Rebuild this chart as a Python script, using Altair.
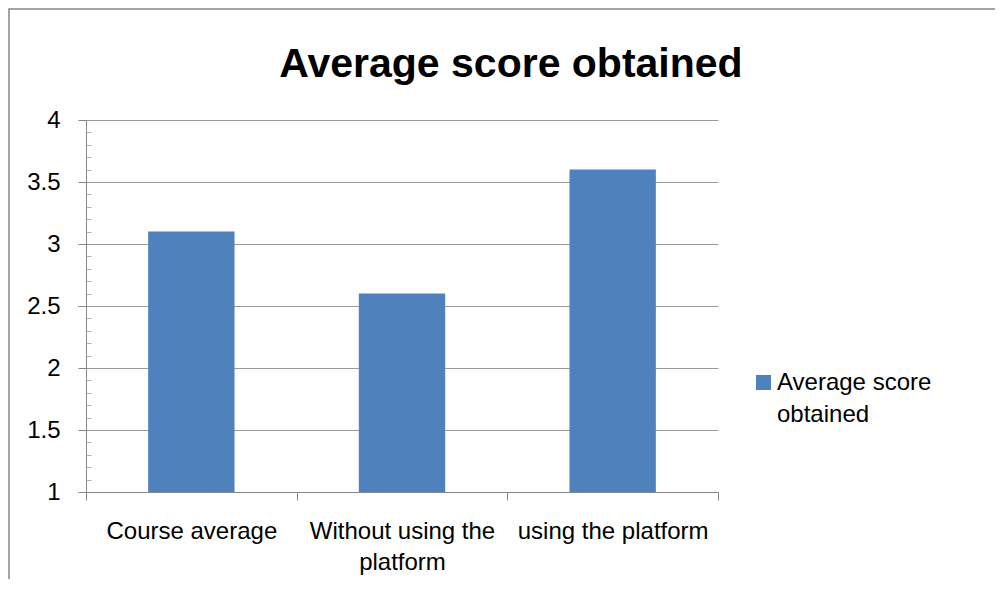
import altair as alt
import pandas as pd

categories = ["Course average", "Without using the platform", "using the platform"]
scores = [3.1, 2.6, 3.6]
series_name = "Average score obtained"
legend_text = "Average score\nobtained"
y_base = 1
y_major = [1, 1.5, 2, 2.5, 3, 3.5, 4]
y_minor = [1.1, 1.2, 1.3, 1.4, 1.6, 1.7, 1.8, 1.9, 2.1, 2.2, 2.3, 2.4,
           2.6, 2.7, 2.8, 2.9, 3.1, 3.2, 3.3, 3.4, 3.6, 3.7, 3.8, 3.9]

FONT = "Liberation Sans"
BLUE = "#4F81BD"
GRAY = "#868686"
GRID = "#9a9a9a"

df = pd.DataFrame({"category": categories, "score": scores,
                   "series": [series_name] * len(categories)})
legend_df = pd.DataFrame({"series": [series_name], "label": [legend_text]})

x_enc = alt.X(
    "category:N", sort=categories, title=None,
    scale=alt.Scale(paddingInner=0, paddingOuter=0),
    axis=alt.Axis(
        tickBand="extent", grid=False, labelAngle=0, tickSize=8,
        tickColor=GRAY, domainColor=GRAY, labelFont=FONT, labelFontSize=24,
        labelColor="black", labelPadding=19, labelLimit=400,
        labelLineHeight=31,
        labelExpr="datum.value == 'Without using the platform' ? ['Without using the', 'platform'] : datum.label",
    ),
)

y_scale = alt.Scale(domain=[1, 4], nice=False, zero=False)
color_enc = alt.Color("series:N", scale=alt.Scale(range=[BLUE]), legend=None)

bars = alt.Chart(df).mark_bar(width=alt.RelativeBandSize(0.41)).encode(
    x=x_enc,
    y=alt.Y("score:Q", scale=y_scale, title=None,
            axis=alt.Axis(values=y_major, grid=True, gridColor=GRID, gridWidth=1,
                          tickSize=8, tickColor=GRAY, domainColor=GRAY, format="~g",
                          labelFont=FONT, labelFontSize=24, labelColor="black",
                          labelPadding=18)),
    y2=alt.datum(y_base),
    color=color_enc,
)

minor = alt.Chart(df).mark_bar(opacity=0).encode(
    x=x_enc,
    y=alt.Y("score:Q", scale=y_scale, title=None,
            axis=alt.Axis(orient="right", offset=-632, values=y_minor, labels=False,
                          domain=False, grid=False, tickSize=5, tickColor="#b0b0b0")),
    y2=alt.datum(y_base),
)

legend_sym = alt.Chart(legend_df).mark_square(size=225, opacity=1).encode(
    x=alt.value(677.5), y=alt.value(262.5), color=color_enc,
)
legend_lbl = alt.Chart(legend_df).mark_text(
    align="left", baseline="alphabetic", font=FONT, fontSize=24, color="black",
    lineBreak="\n", lineHeight=32,
).encode(x=alt.value(691), y=alt.value(270), text="label:N")

frame = alt.Chart(pd.DataFrame({"frame": [0]})).mark_rect(
    fillOpacity=0, stroke=GRAY, strokeWidth=1.5
).encode(x=alt.value(-77), x2=alt.value(1000), y=alt.value(-111), y2=alt.value(600))

chart = alt.layer(frame, bars, minor, legend_sym, legend_lbl).resolve_axis(
    y="independent"
).properties(
    width=632, height=372,
    title=alt.TitleParams("Average score obtained", font=FONT, fontSize=41,
                          fontWeight="bold", color="black", anchor="middle",
                          frame="group", baseline="alphabetic",
                          dx=109, offset=-110),
    autosize=alt.AutoSizeParams(type="none"),
    padding={"left": 78, "top": 112, "right": 277, "bottom": 87},
    background="white",
).configure_view(stroke=None)

chart.save("out.html", embed_options={"renderer": "svg", "actions": False})
